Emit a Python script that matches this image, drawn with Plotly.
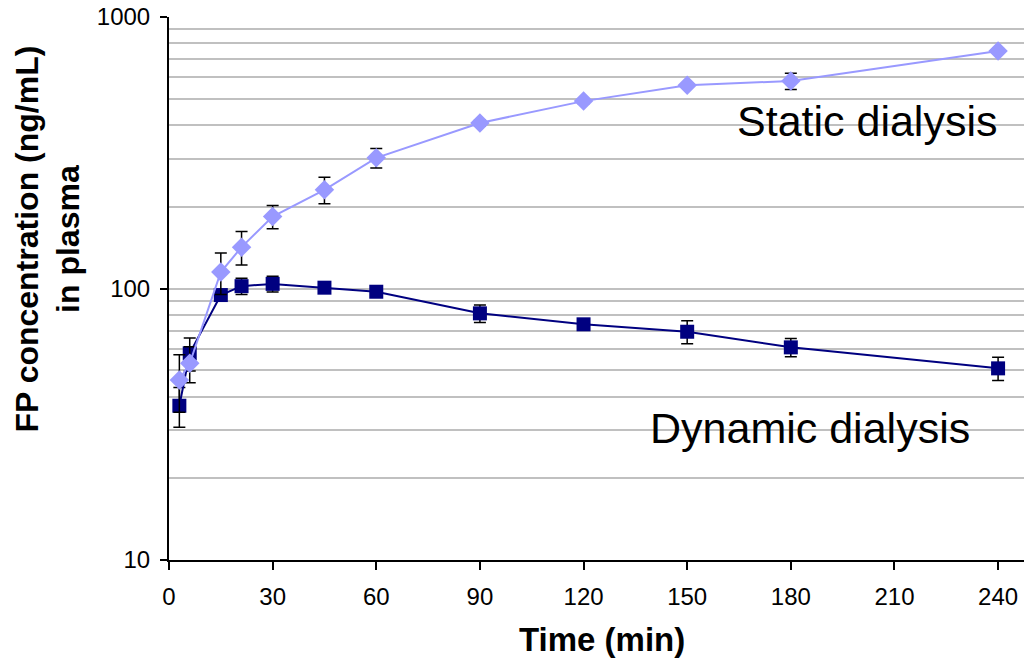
import plotly.graph_objects as go

time_min = [3, 6, 15, 21, 30, 45, 60, 90, 120, 150, 180, 240]

static_vals = [46, 53, 115, 142, 184, 231, 303, 407, 490, 561, 581, 750]
static_err = [11, 8, 20, 20, 18, 26, 25, 10, 10, 10, 40, 15]

dynamic_vals = [37, 57.7, 94.6, 102, 104, 100.7, 97.3, 81, 73.8, 69.3, 60.7, 50.8]
dynamic_err = [6.2, 8, 4, 7, 7, 3, 3, 6, 3, 6.7, 4.7, 5]

x_ticks = [0, 30, 60, 90, 120, 150, 180, 210, 240]
y_ticks = [10, 100, 1000]

FONT = "Liberation Sans, Arial, sans-serif"
STATIC_COLOR = "#9999ff"
DYN_COLOR = "#000080"

fig = go.Figure()

fig.add_trace(go.Scatter(
    x=time_min, y=dynamic_vals, mode="lines+markers", name="Dynamic dialysis",
    line=dict(color=DYN_COLOR, width=2),
    marker=dict(symbol="square", size=14, color=DYN_COLOR, line=dict(width=0)),
    error_y=dict(type="data", array=dynamic_err, symmetric=True,
                 color="black", thickness=1.5, width=6),
    showlegend=False,
))
fig.add_trace(go.Scatter(
    x=time_min, y=static_vals, mode="lines+markers", name="Static dialysis",
    line=dict(color=STATIC_COLOR, width=2),
    marker=dict(symbol="diamond", size=15, color=STATIC_COLOR, line=dict(width=0)),
    error_y=dict(type="data", array=static_err, symmetric=True,
                 color="black", thickness=1.5, width=6),
    showlegend=False,
))

fig.update_layout(
    width=1027, height=662,
    template=None,
    paper_bgcolor="white", plot_bgcolor="white",
    margin=dict(l=169, r=3, t=17, b=102, autoexpand=False),
    font=dict(family=FONT, color="black"),
    xaxis=dict(
        range=[0, 247.5], tickmode="array", tickvals=x_ticks,
        ticktext=[str(v) for v in x_ticks],
        showgrid=False, zeroline=False,
        showline=True, linecolor="black", linewidth=2,
        ticks="outside", ticklen=8, tickwidth=1.5, tickcolor="black",
        ticklabelstandoff=6,
        tickfont=dict(size=24, family=FONT, color="black"),
        automargin=False,
    ),
    yaxis=dict(
        type="log", range=[1, 3],
        tickmode="array", tickvals=y_ticks, ticktext=[str(v) for v in y_ticks],
        showgrid=True, gridcolor="#c0c0c0", gridwidth=1.5,
        minor=dict(tickmode="array",
                   tickvals=[m * d for d in (10, 100) for m in range(2, 10)],
                   showgrid=True, gridcolor="#c0c0c0", gridwidth=1.5, ticks=""),
        zeroline=False,
        showline=True, linecolor="black", linewidth=2,
        ticks="outside", ticklen=7, tickwidth=1.5, tickcolor="black",
        ticklabelstandoff=5,
        tickfont=dict(size=24, family=FONT, color="black"),
        automargin=False,
    ),
    annotations=[
        dict(text="Static dialysis", x=202, y=2.598, xref="x", yref="y",
             xanchor="center", yanchor="middle", showarrow=False, yshift=5,
             font=dict(size=43, family=FONT, color="black")),
        dict(text="Dynamic dialysis", x=185.5, y=1.471, xref="x", yref="y",
             xanchor="center", yanchor="middle", showarrow=False, yshift=4,
             font=dict(size=43, family=FONT, color="black")),
        dict(text="<b>Time (min)</b>", x=0.5064, y=-0.1473, xref="paper", yref="paper",
             xanchor="center", yanchor="middle", showarrow=False,
             font=dict(size=33, family=FONT, color="black")),
        dict(text="<b>FP concentration (ng/mL)<br>in plasma</b>", x=-0.1420, y=0.5912,
             xref="paper", yref="paper", textangle=-90,
             xanchor="center", yanchor="middle", showarrow=False,
             font=dict(size=32, family=FONT, color="black")),
    ],
)

fig.write_html("out.html", config={"displayModeBar": False},
               post_script="document.body.style.margin='0';document.body.style.overflow='hidden';")
